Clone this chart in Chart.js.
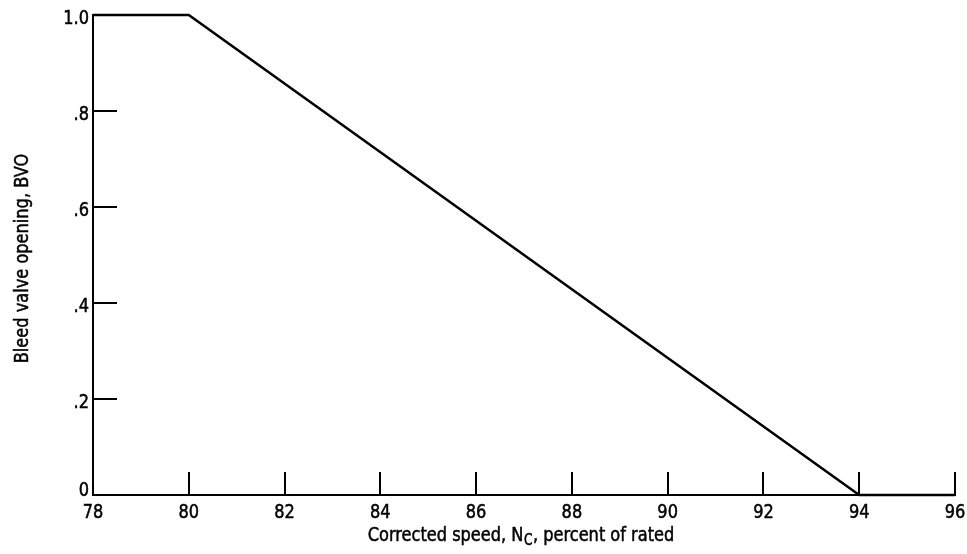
<!DOCTYPE html>
<html>
<head>
<meta charset="utf-8">
<script src="https://cdn.jsdelivr.net/npm/chart.js@4.4.1/dist/chart.umd.min.js"></script>
<style>
html,body{margin:0;padding:0;background:#fff;}
#wrap{width:967px;height:554px;position:relative;}
</style>
</head>
<body>
<div id="wrap"><canvas id="c" width="967" height="554"></canvas></div>
<script>
const speed = [78, 80, 94, 96];
const bvo = [1.0, 1.0, 0, 0];
const xTickValues = [78, 80, 82, 84, 86, 88, 90, 92, 94, 96];
const xTickLabels = ['78', '80', '82', '84', '86', '88', '90', '92', '94', '96'];
const yTickValues = [0, 0.2, 0.4, 0.6, 0.8, 1.0];
const yTickLabels = ['0', '.2', '.4', '.6', '.8', '1.0'];
const xTitleParts = ['Corrected speed, N', 'C', ', percent of rated'];
const yTitle = 'Bleed valve opening, BVO';

const FONT = '"DejaVu Sans Condensed", "DejaVu Sans", sans-serif';
const FS = 20;
const SX = 0.9; // horizontal condensing to mimic the narrow typeface

function txt(ctx, s, x, y, align, font) {
  ctx.save();
  ctx.font = font;
  ctx.textAlign = align;
  ctx.translate(x, y);
  ctx.scale(SX, 1);
  ctx.lineWidth = 0.5;
  ctx.strokeStyle = '#000';
  ctx.fillText(s, 0, 0);
  ctx.strokeText(s, 0, 0);
  ctx.restore();
}

const decor = {
  id: 'decor',
  afterDraw(chart) {
    const ctx = chart.ctx;
    const xs = chart.scales.x, ys = chart.scales.y;
    const area = chart.chartArea;
    ctx.save();
    ctx.strokeStyle = '#000';
    ctx.lineWidth = 2;
    ctx.beginPath();
    xTickValues.forEach(v => {
      const px = Math.round(xs.getPixelForValue(v));
      ctx.moveTo(px, area.bottom);
      ctx.lineTo(px, area.bottom - 23);
    });
    yTickValues.forEach(v => {
      const py = Math.round(ys.getPixelForValue(v));
      ctx.moveTo(area.left, py);
      ctx.lineTo(area.left + 24, py);
    });
    ctx.stroke();

    ctx.fillStyle = '#000';
    ctx.textBaseline = 'alphabetic';
    const mainFont = FS + 'px ' + FONT;
    const subFont = (FS - 5) + 'px ' + FONT;

    // tick labels
    xTickValues.forEach((v, i) => {
      txt(ctx, xTickLabels[i], xs.getPixelForValue(v), area.bottom + 23, 'center', mainFont);
    });
    yTickValues.forEach((v, i) => {
      const py = ys.getPixelForValue(v);
      const base = v === 0 ? area.bottom + 1 : py + 8.5;
      txt(ctx, yTickLabels[i], area.left - 4, base, 'right', mainFont);
    });

    // x title with subscript
    ctx.font = mainFont;
    const w1 = ctx.measureText(xTitleParts[0]).width * SX;
    const w3 = ctx.measureText(xTitleParts[2]).width * SX;
    ctx.font = subFont;
    const w2 = ctx.measureText(xTitleParts[1]).width * SX;
    const total = w1 + w2 + w3 + 1;
    let x0 = 521 - total / 2;
    const base = 541;
    txt(ctx, xTitleParts[0], x0, base, 'left', mainFont);
    txt(ctx, xTitleParts[1], x0 + w1 + 0.5, base + 4, 'left', subFont);
    txt(ctx, xTitleParts[2], x0 + w1 + w2 + 1, base, 'left', mainFont);

    // y title
    ctx.save();
    ctx.translate(28, 258.5);
    ctx.rotate(-Math.PI / 2);
    txt(ctx, yTitle, 0, 0, 'center', mainFont);
    ctx.restore();
    ctx.restore();
  }
};

new Chart(document.getElementById('c'), {
  type: 'scatter',
  data: {
    datasets: [{
      data: speed.map((s, i) => ({x: s, y: bvo[i]})),
      showLine: true,
      borderColor: '#000',
      borderWidth: 2.5,
      pointRadius: 0,
      fill: false,
      tension: 0,
      clip: false
    }]
  },
  options: {
    responsive: false,
    animation: false,
    devicePixelRatio: 1,
    layout: {padding: {left: 0, right: 12, top: 15, bottom: 0}},
    plugins: {legend: {display: false}, tooltip: {enabled: false}},
    scales: {
      x: {
        type: 'linear',
        min: 78, max: 96,
        afterBuildTicks(scale) { scale.ticks = xTickValues.map(v => ({value: v})); },
        afterFit(scale) { scale.height = 59; },
        grid: {display: false, drawTicks: false},
        border: {display: true, color: '#000', width: 2},
        ticks: {display: false}
      },
      y: {
        type: 'linear',
        min: 0, max: 1,
        afterBuildTicks(scale) { scale.ticks = yTickValues.map(v => ({value: v})); },
        afterFit(scale) { scale.width = 93; },
        grid: {display: false, drawTicks: false},
        border: {display: true, color: '#000', width: 2},
        ticks: {display: false}
      }
    }
  },
  plugins: [decor]
});
</script>
</body>
</html>
